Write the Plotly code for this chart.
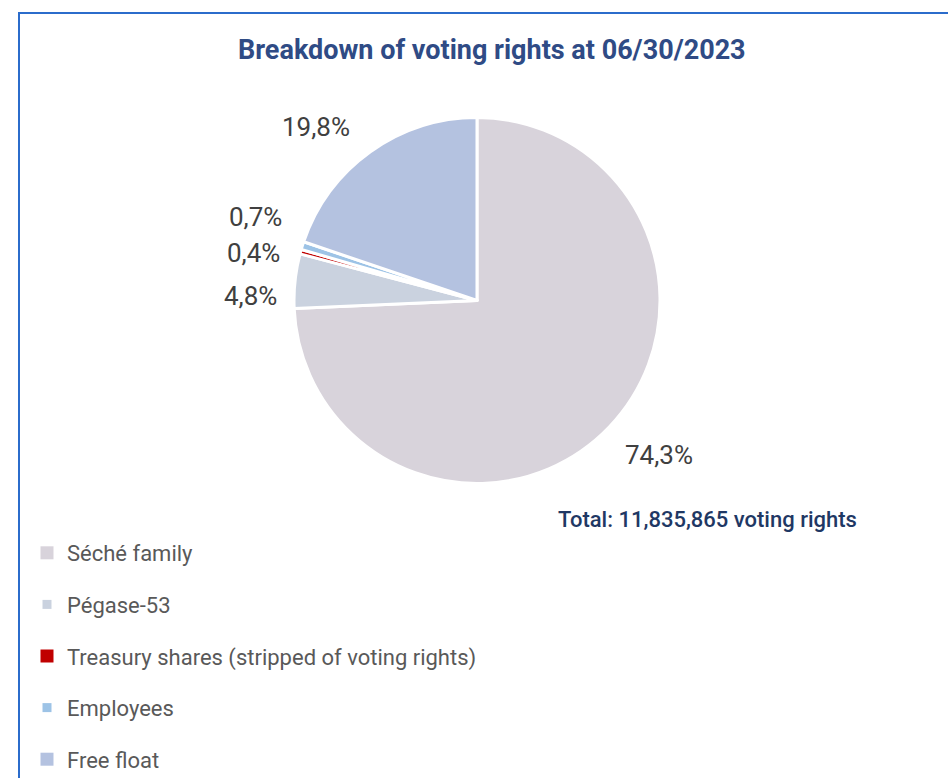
import plotly.graph_objects as go

# Shareholder categories and their share of voting rights (%)
labels = ["Séché family", "Pégase-53", "Treasury shares (stripped of voting rights)",
          "Employees", "Free float"]
shares = [74.3, 4.8, 0.4, 0.7, 19.8]
colors = ["#D8D3DB", "#CAD2DF", "#C00000", "#9DC3E6", "#B4C2E0"]
legend_sizes = [13, 9, 13, 9, 13]
total_rights = 11835865

title_text = "Breakdown of voting rights at 06/30/2023"

W, H = 948, 778
FONT = "Roboto"

def px(x):
    return x / W

def py(y):
    return 1 - y / H

fig = go.Figure()

fig.add_trace(go.Pie(
    labels=labels,
    values=shares,
    sort=False,
    direction="clockwise",
    rotation=0,
    marker=dict(colors=colors, line=dict(color="white", width=3)),
    textinfo="none",
    hoverinfo="label+percent",
    showlegend=False,
    domain=dict(x=[px(294), px(660)], y=[py(484), py(117)]),
))

# Legend entries (one group each so the spacing can be controlled)
for i, (lab, col, sz) in enumerate(zip(labels, colors, legend_sizes)):
    fig.add_trace(go.Scatter(
        x=[None], y=[None], mode="markers", name=lab,
        marker=dict(symbol="square", color=col, size=sz),
        legendgroup=f"g{i}", hoverinfo="skip",
    ))

# Percentage labels placed beside each slice
label_pos = [(659, 455), (250, 296), (253, 253), (255, 217), (316, 127)]
annotations = []
for v, (x, y) in zip(shares, label_pos):
    annotations.append(dict(
        x=px(x), y=py(y), xref="paper", yref="paper",
        text=f"{v:.1f}%".replace(".", ","), showarrow=False,
        font=dict(family=FONT, size=26, color="#404040"),
        xanchor="center", yanchor="middle",
    ))

annotations.append(dict(
    x=px(556), y=py(519), xref="paper", yref="paper",
    text=f"Total: {total_rights:,} voting rights", showarrow=False,
    font=dict(family=FONT, size=22, color="#1F3864", weight=500),
    xanchor="left", yanchor="middle",
))

annotations.append(dict(
    x=px(492), y=py(50), xref="paper", yref="paper",
    text=f"<b>{title_text}</b>", showarrow=False,
    font=dict(family=FONT, size=27, color="#2F4B85"),
    xanchor="center", yanchor="middle",
))

fig.update_layout(
    width=W, height=H,
    margin=dict(l=0, r=0, t=0, b=0, autoexpand=False),
    paper_bgcolor="white", plot_bgcolor="white",
    xaxis=dict(visible=False), yaxis=dict(visible=False),
    annotations=annotations,
    shapes=[dict(type="rect", xref="paper", yref="paper",
                 x0=px(19), x1=1.05, y0=-0.05, y1=py(13),
                 line=dict(color="#2B6CCB", width=2))],
    legend=dict(
        x=px(27), y=py(532), xanchor="left", yanchor="top",
        font=dict(family=FONT, size=22, color="#595959"),
        tracegroupgap=20, bgcolor="rgba(0,0,0,0)",
    ),
    showlegend=True,
)

fig.write_html("out.html")
